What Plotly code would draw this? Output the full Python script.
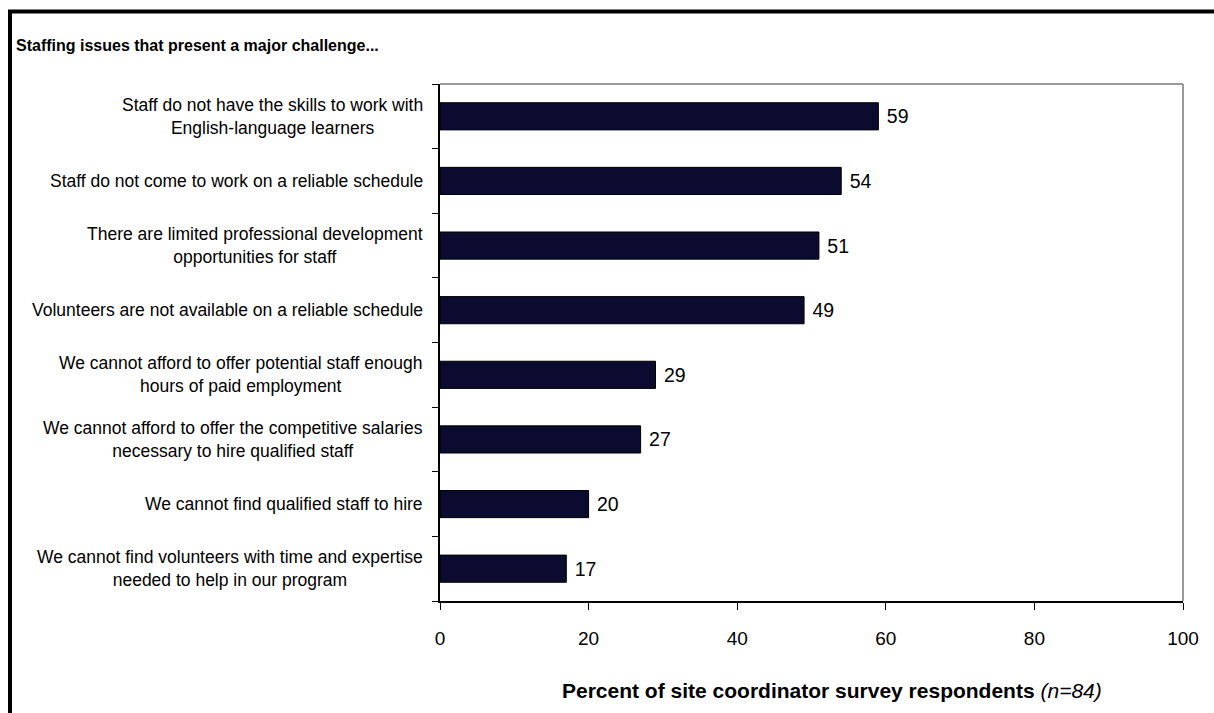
import plotly.graph_objects as go

# Survey results: staffing issues that present a major challenge
issues = [
    "Staff do not have the skills to work with<br>English-language learners",
    "Staff do not come to work on a reliable schedule",
    "There are limited professional development<br>opportunities for staff",
    "Volunteers are not available on a reliable schedule",
    "We cannot afford to offer potential staff enough<br>hours of paid employment",
    "We cannot afford to offer the competitive salaries<br>necessary to hire qualified staff",
    "We cannot find qualified staff to hire",
    "We cannot find volunteers with time and expertise<br>needed to help in our program",
]
percents = [59, 54, 51, 49, 29, 27, 20, 17]
x_ticks = [0, 20, 40, 60, 80, 100]

W, H = 1214, 713
ML, MR, MT, MB = 440, 31, 84, 112
PW, PH = W - ML - MR, H - MT - MB


def px_x(p):
    return (p - ML) / PW


def px_y(p):
    return (H - MB - p) / PH


FONT = "Liberation Sans, Arial, sans-serif"
BAR = "#0b0b30"

fig = go.Figure(
    go.Bar(
        x=percents,
        y=issues,
        orientation="h",
        width=0.42,
        marker=dict(color=BAR, line=dict(color="#000000", width=1)),
        text=["\u00a0" + str(v) for v in percents],
        textposition="outside",
        textfont=dict(family=FONT, size=19.5, color="#000000"),
        cliponaxis=False,
        hoverinfo="skip",
    )
)

annotations = []
# Category labels, centred lines, right edge next to the axis
for name in issues:
    annotations.append(dict(
        x=px_x(425), xref="paper", y=name, yref="y",
        text=name, showarrow=False, xanchor="right", yanchor="middle",
        align="center", font=dict(family=FONT, size=17.5, color="#000000"),
    ))

# Chart heading
annotations.append(dict(
    x=px_x(14), xref="paper", y=px_y(46), yref="paper",
    text="<b>Staffing issues that present a major challenge...</b>",
    showarrow=False, xanchor="left", yanchor="middle",
    font=dict(family=FONT, size=16, color="#000000"),
))

# Axis caption
annotations.append(dict(
    x=px_x(832), xref="paper", y=px_y(690), yref="paper",
    text="<b>Percent of site coordinator survey respondents</b> <i>(n=84)</i>",
    showarrow=False, xanchor="center", yanchor="middle",
    font=dict(family=FONT, size=21, color="#000000"),
))

shapes = [
    # outer frame: thick black rules along top and left
    dict(type="line", xref="paper", yref="paper",
         x0=px_x(8), x1=px_x(W + 5), y0=px_y(11.5), y1=px_y(11.5),
         line=dict(color="#000000", width=4)),
    dict(type="line", xref="paper", yref="paper",
         x0=px_x(10), x1=px_x(10), y0=px_y(10), y1=px_y(H + 5),
         line=dict(color="#000000", width=4)),
    # plot area border (top and right) in grey
    dict(type="line", xref="paper", yref="paper",
         x0=0, x1=1, y0=1, y1=1, line=dict(color="#9a9a9a", width=2)),
    dict(type="line", xref="paper", yref="paper",
         x0=1, x1=1, y0=0, y1=1, line=dict(color="#9a9a9a", width=2)),
]

fig.update_layout(
    width=W, height=H,
    margin=dict(l=ML, r=MR, t=MT, b=MB, pad=0),
    paper_bgcolor="#ffffff", plot_bgcolor="#ffffff",
    showlegend=False,
    bargap=0.58,
    annotations=annotations,
    shapes=shapes,
    xaxis=dict(
        range=[0, 100], tickvals=x_ticks, ticktext=[str(t) for t in x_ticks],
        showgrid=False, zeroline=False,
        showline=True, linecolor="#000000", linewidth=2,
        ticks="outside", ticklen=7, tickcolor="#000000", tickwidth=1,
        tickfont=dict(family=FONT, size=19, color="#000000"),
        ticklabelstandoff=12,
        fixedrange=True,
    ),
    yaxis=dict(
        categoryorder="array", categoryarray=issues[::-1],
        showgrid=False, zeroline=False,
        showline=True, linecolor="#000000", linewidth=2,
        ticks="outside", ticklen=6, tickcolor="#000000", tickwidth=1,
        tickson="boundaries",
        showticklabels=False,
        fixedrange=True,
    ),
)

fig.write_html("out.html")
